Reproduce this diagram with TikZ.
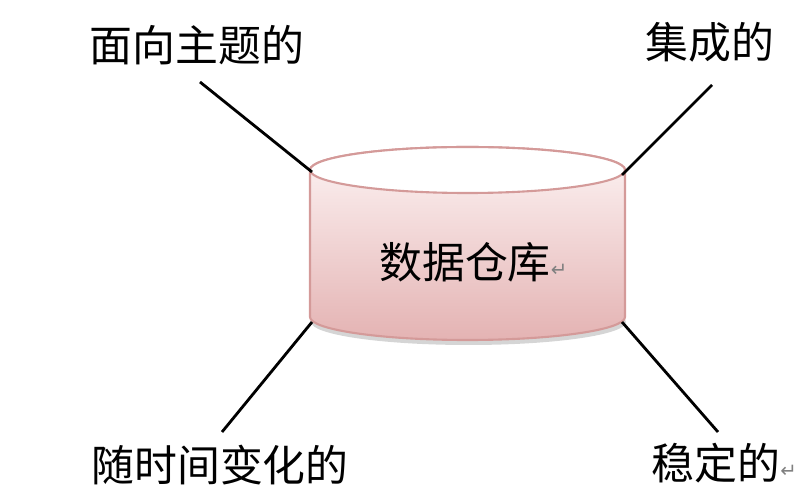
\documentclass[tikz,border=0pt]{standalone}
\usepackage{fontspec}
\newfontfamily\cjk{Noto Sans CJK SC}
\newfontfamily\dejavu{DejaVu Sans}
\definecolor{rim}{HTML}{D49A99}
\definecolor{pinklo}{HTML}{E4B3B3}
\definecolor{pinkhi}{HTML}{FDF4F4}
\begin{document}
\begin{tikzpicture}[x=0.025cm,y=0.025cm,
		lbl/.style={inner sep=0pt,font=\cjk\fontsize{30.5}{35}\selectfont},
		leg/.style={line width=2pt}]
	\useasboundingbox (0,0) rectangle (802,500);
	% shadow and body of the store
	\fill[gray!55,opacity=.6] (468.5,178) ellipse [x radius=157.5, y radius=23];
	\shade[top color=pinkhi,bottom color=pinklo,draw=rim,line width=1.5pt]
		(310,330) -- (310,183) arc[start angle=180, end angle=360, x radius=157.5, y radius=23]
		-- (625,330) arc[start angle=0, end angle=180, x radius=157.5, y radius=23] -- cycle;
	\filldraw[fill=white,draw=rim,line width=1.5pt] (467.5,330) ellipse [x radius=157.5, y radius=23];
	\node[lbl] (dw) at (465,238) {数据仓库\rlap{\raisebox{.05em}{\dejavu\color{gray}\fontsize{14}{15}\selectfont ↵}}};
	% corners of the store
	\coordinate (tl) at (312,328);
	\coordinate (tr) at (622,325);
	\coordinate (bl) at (312,178);
	\coordinate (br) at (622,178);
	% the four labels
	\node[lbl] (1) at (197,455) {面向主题的};
	\node[lbl] (2) at (710,458) {集成的};
	\node[lbl] (3) at (220,35) {随时间变化的};
	\node[lbl] (4) at (716,37) {稳定的\rlap{\raisebox{.05em}{\dejavu\color{gray}\fontsize{14}{15}\selectfont ↵}}};
	\coordinate (1e) at (200,418);
	\coordinate (2e) at (712,415);
	\coordinate (3e) at (222,68);
	\coordinate (4e) at (718,68);
	\draw[leg] (1e) -- (tl);
	\draw[leg] (2e) -- (tr);
	\draw[leg] (3e) -- (bl);
	\draw[leg] (4e) -- (br);
\end{tikzpicture}
\end{document}
